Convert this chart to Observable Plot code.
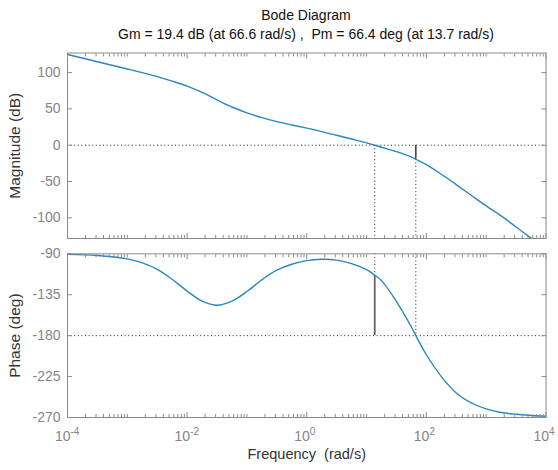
<!DOCTYPE html>
<html><head><meta charset="utf-8">
<script src="https://cdn.jsdelivr.net/npm/d3@7"></script>
<script src="https://cdn.jsdelivr.net/npm/@observablehq/plot@0.6"></script>
<style>
body{margin:0;background:#fff;font-family:"Liberation Sans",Arial,sans-serif}
#wrap{position:relative;width:558px;height:470px;overflow:hidden;background:#fff}
.t{position:absolute;left:67px;width:478px;text-align:center;font-size:14px;line-height:16px;color:#111;white-space:pre}
#topPanel,#botPanel{position:absolute;left:0}
</style></head><body>
<div id="wrap">
<div class="t" style="top:7px">Bode Diagram</div>
<div class="t" style="top:25.5px">Gm = 19.4 dB (at 66.6 rad/s) ,  Pm = 66.4 deg (at 13.7 rad/s)</div>
<div id="topPanel" style="top:45px"></div>
<div id="botPanel" style="top:245px"></div>
</div>
<script>
// ---- data ----
const magFreq = [1e-4, 3.16e-4, 1e-3, 3.16e-3, 5.62e-3, 1e-2, 1.78e-2, 3.16e-2, 5.62e-2, 0.1, 0.178, 0.316, 0.562, 1, 1.78, 3.16, 5.62, 10, 13.7, 17.8, 31.6, 56.2, 66.6, 100, 178, 316, 562, 1000, 1780, 3160, 5620, 10000];
const magDb   = [125, 115, 105, 94.4, 88.2, 81.4, 72.7, 62.5, 52.6, 44.6, 38, 32.5, 27.9, 23.5, 18.8, 13.7, 8.5, 3.3, 0, -2.8, -8.8, -16.3, -19.4, -26.6, -40, -54.2, -69, -83.6, -97.4, -112.6, -128, -143];
const phaseFreq = [1e-4, 3.16e-4, 1e-3, 1.78e-3, 3.16e-3, 5.62e-3, 1e-2, 1.78e-2, 3.16e-2, 5.62e-2, 0.1, 0.178, 0.316, 0.562, 1, 1.78, 3.16, 5.62, 10, 13.7, 17.8, 31.6, 56.2, 66.6, 100, 178, 316, 562, 1000, 1780, 3160, 5620, 10000];
const phaseDeg  = [-90.6, -91.8, -95.6, -100, -107, -118, -131, -142, -146.5, -142, -131.5, -118.5, -108, -101.5, -97.5, -96, -97, -100.8, -107.5, -113.6, -119.5, -142.5, -170.5, -180, -201, -225, -243, -254, -260.5, -264.5, -266.5, -267.8, -268.7];
const gmFreq = 66.6, gmDb = 19.4;
const pmFreq = 13.7, pmPhase = -113.6;
const magTicks = [-100, -50, 0, 50, 100];
const phaseTicks = [-270, -225, -180, -135, -90];
const xMajor = [1e-4, 1e-2, 1, 1e2, 1e4];
const xExpLabels = ["-4", "-2", "0", "2", "4"];
const magDomain = [-128.5, 127];
const phaseDomain = [-270, -90];

const xMinor = [];
for (let k = -4; k < 4; k++) {
  for (let m = 1; m <= 9; m++) {
    if (m === 1 && (k % 2 === 0)) continue;
    xMinor.push(m * Math.pow(10, k));
  }
}

const magData = magFreq.map((f, i) => ({f, v: magDb[i]}));
const phaseData = phaseFreq.map((f, i) => ({f, v: phaseDeg[i]}));

const lineColor = "#2a86c0";
const frameColor = "#8a8a8a";
const tickText = "#858585";
const dotted = {stroke: "#222", strokeWidth: 1, strokeDasharray: "1,2.6"};
const font = "Liberation Sans, Arial, sans-serif";

function boxTicks(yTicks, yLabel) {
  return [
    Plot.axisX({ticks: xMinor, anchor: "bottom", tickSize: -3, tickFormat: () => "", label: null, stroke: frameColor}),
    Plot.axisX({ticks: xMinor, anchor: "top", tickSize: -3, tickFormat: () => "", label: null, stroke: frameColor}),
    Plot.axisX({ticks: xMajor, anchor: "bottom", tickSize: -5, tickFormat: () => "", label: null, stroke: frameColor}),
    Plot.axisX({ticks: xMajor, anchor: "top", tickSize: -5, tickFormat: () => "", label: null, stroke: frameColor}),
    Plot.axisY({ticks: yTicks, anchor: "left", tickSize: -5, tickFormat: () => "", label: null, stroke: frameColor}),
    Plot.axisY({ticks: yTicks, anchor: "right", tickSize: -5, tickFormat: () => "", label: null, stroke: frameColor}),
    Plot.axisY({ticks: yTicks, anchor: "left", tickSize: 0, tickPadding: 7, tickFormat: d => String(d), label: null, fontSize: 14, color: tickText}),
    Plot.axisY({ticks: [], anchor: "left", tickSize: 0, label: yLabel, labelAnchor: "center", labelArrow: "none", labelOffset: 59, fontSize: 15.5, color: "#333"})
  ];
}

const common = {
  width: 558, marginLeft: 67, marginRight: 12.5,
  x: {type: "log", domain: [1e-4, 1e4], label: null},
  style: {fontFamily: font, fontSize: "14px", background: "transparent", overflow: "visible"}
};

const topPlot = Plot.plot({
  ...common,
  height: 200, marginTop: 7.5, marginBottom: 7,
  y: {domain: magDomain, label: null},
  marks: [
    Plot.ruleY([0], dotted),
    Plot.ruleX([pmFreq], {y1: 0, y2: magDomain[0], ...dotted}),
    Plot.ruleX([gmFreq], {y1: -gmDb, y2: magDomain[0], ...dotted}),
    Plot.ruleX([gmFreq], {y1: 0, y2: -gmDb, stroke: "#444", strokeWidth: 1.6}),
    Plot.line(magData, {x: "f", y: "v", stroke: lineColor, strokeWidth: 1.4, curve: "catmull-rom", clip: true}),
    Plot.frame({stroke: frameColor}),
    ...boxTicks(magTicks, "Magnitude (dB)")
  ]
});

const botPlot = Plot.plot({
  ...common,
  height: 225, marginTop: 8.3, marginBottom: 53,
  y: {domain: phaseDomain, label: null},
  marks: [
    Plot.ruleY([-180], dotted),
    Plot.ruleX([pmFreq], {y1: phaseDomain[1], y2: pmPhase, ...dotted}),
    Plot.ruleX([pmFreq], {y1: pmPhase, y2: -180, stroke: "#666", strokeWidth: 1.8}),
    Plot.ruleX([gmFreq], {y1: phaseDomain[1], y2: -180, ...dotted}),
    Plot.line(phaseData, {x: "f", y: "v", stroke: lineColor, strokeWidth: 1.4, curve: "catmull-rom", clip: true}),
    Plot.frame({stroke: frameColor}),
    ...boxTicks(phaseTicks, "Phase (deg)"),
    Plot.text(xMajor, {x: d => d, text: () => "10", frameAnchor: "bottom", lineAnchor: "bottom", textAnchor: "end", dx: 3, dy: 23.7, fontSize: 14, fill: tickText}),
    Plot.text(xMajor, {x: d => d, text: (d, i) => xExpLabels[i], frameAnchor: "bottom", lineAnchor: "bottom", textAnchor: "start", dx: 3, dy: 17, fontSize: 10, fill: tickText}),
    Plot.axisX({ticks: [], anchor: "bottom", tickSize: 0, label: "Frequency\u00a0 (rad/s)", labelAnchor: "center", labelArrow: "none", labelOffset: 41, fontSize: 14.5, color: "#333"})
  ]
});

document.getElementById("topPanel").appendChild(topPlot);
document.getElementById("botPanel").appendChild(botPlot);
</script>
</body></html>
